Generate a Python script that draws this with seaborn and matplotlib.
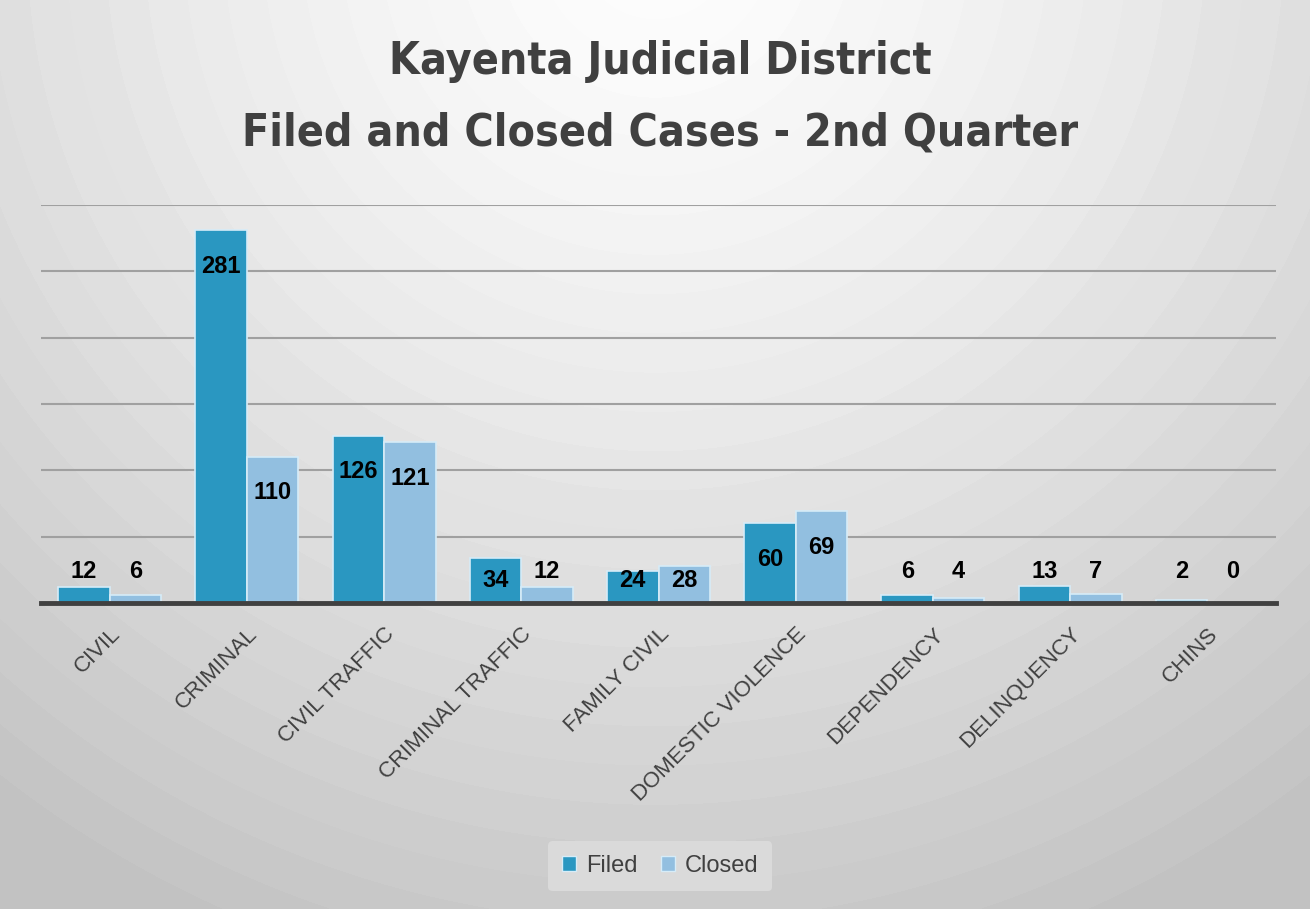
import numpy as np
import pandas as pd
import seaborn as sns
import matplotlib.pyplot as plt
from matplotlib.patches import Patch

# DATA
categories = ["CIVIL", "CRIMINAL", "CIVIL TRAFFIC", "CRIMINAL TRAFFIC", "FAMILY CIVIL",
              "DOMESTIC VIOLENCE", "DEPENDENCY", "DELINQUENCY", "CHINS"]
filed = [12, 281, 126, 34, 24, 60, 6, 13, 2]
closed = [6, 110, 121, 12, 28, 69, 4, 7, 0]
series = ["Filed", "Closed"]
colors = ["#2a97c1", "#92bfe0"]

data = pd.DataFrame({
    "category": categories * 2,
    "count": filed + closed,
    "status": [series[0]] * len(categories) + [series[1]] * len(categories),
})

sns.set_theme(style="white")
plt.rcParams["font.family"] = ["Liberation Sans", "DejaVu Sans"]

fig = plt.figure(figsize=(13.1, 9.09), dpi=100)

# radial background, banded like the original
bg = fig.add_axes([0, 0, 1, 1], zorder=-10)
yy, xx = np.mgrid[0:909, 0:1310]
r = np.hypot(xx - 655, (yy + 60) * 1.0) / 1100
r = np.floor(r * 28) / 28
shade = np.clip(0.99 - 0.24 * r ** 1.3, 0.76, 1)
bg.imshow(shade, cmap="gray", vmin=0, vmax=1, aspect="auto",
          extent=[0, 1, 0, 1], origin="upper")
bg.axis("off")
fig.patch.set_edgecolor("#a6a6a6")
fig.patch.set_linewidth(3)

ax = fig.add_axes([41 / 1310, 306 / 909, 1235 / 1310, 398 / 909])
ax.patch.set_alpha(0)
sns.barplot(data=data, x="category", y="count", hue="status",
            palette=colors, width=0.75, ax=ax, legend=False,
            edgecolor="#d6ecf8", linewidth=1.2, saturation=1)

ax.set_ylim(0, 300)
ax.set_xlim(-0.5, len(categories) - 0.5)
ax.set_yticks(range(0, 301, 50))
ax.yaxis.grid(True, color="#a0a0a0", linewidth=1.5)
ax.set_axisbelow(True)
ax.tick_params(axis="y", left=False, labelleft=False)
ax.tick_params(axis="x", bottom=False, pad=9)
for s in ["top", "right", "left"]:
    ax.spines[s].set_visible(False)
ax.spines["bottom"].set_color("#404040")
ax.spines["bottom"].set_linewidth(3.5)
ax.set_xlabel("")
ax.set_ylabel("")
ax.set_xticks(range(len(categories)))
ax.set_xticklabels(categories, rotation=45, ha="right", rotation_mode="anchor",
                   fontsize=16, color="#404040")

# value labels
for cont in ax.containers:
    for bar in cont:
        h = bar.get_height()
        xc = bar.get_x() + bar.get_width() / 2
        y = max(h - 27, 17) if h >= 20 else 24
        ax.text(xc, y, f"{h:.0f}", ha="center", va="center",
                fontsize=17, fontweight="bold", color="black")

title_font = dict(ha="center", va="center", fontsize=32, fontweight="bold",
                  color="#404040", family=["DejaVu Sans"], fontstretch="condensed")
fig.text(0.504, 0.932, "Kayenta Judicial District", **title_font)
fig.text(0.504, 0.854, "Filed and Closed Cases - 2nd Quarter", **title_font)

handles = [Patch(facecolor=c, edgecolor="#d6ecf8", label=s) for c, s in zip(colors, series)]
leg = fig.legend(handles=handles, loc="center", bbox_to_anchor=(0.504, 0.047),
                 ncol=2, frameon=True, fontsize=17, handlelength=0.6, handleheight=0.6,
                 handletextpad=0.4, columnspacing=1.0, borderpad=0.6)
leg.get_frame().set_facecolor("#dcdcdc")
leg.get_frame().set_edgecolor("none")
leg.get_frame().set_alpha(0.9)
for t in leg.get_texts():
    t.set_color("#404040")

fig.savefig("out.png", dpi=100)
